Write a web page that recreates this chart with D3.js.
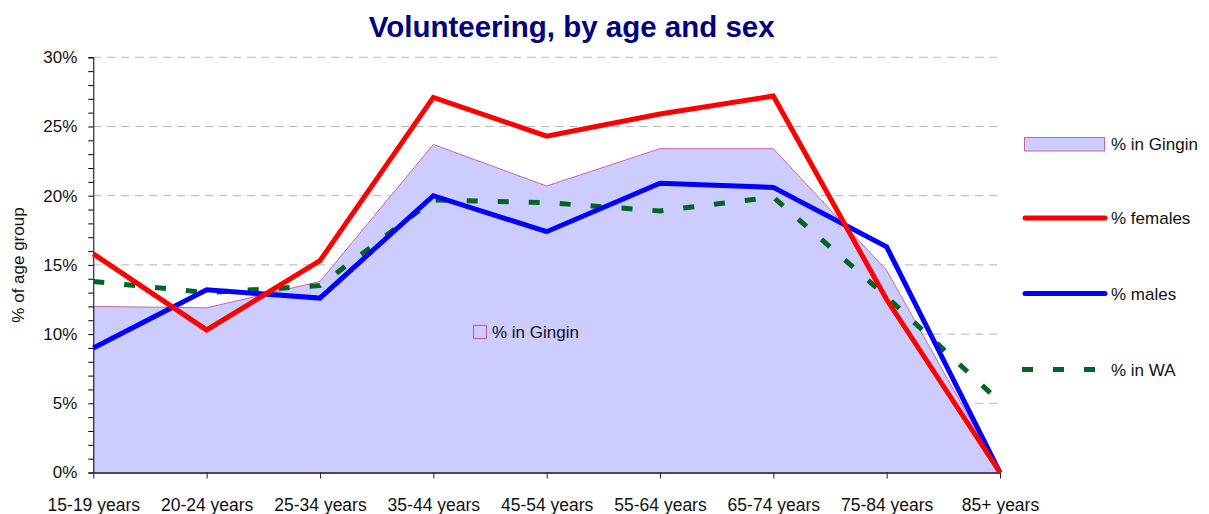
<!DOCTYPE html>
<html>
<head>
<meta charset="utf-8">
<script src="https://cdn.jsdelivr.net/npm/d3@7"></script>
<style>
    body { margin: 0; background: #fff; }
    #chart-area { width: 1209px; height: 514px; }
    text { font-family: "Liberation Sans", Arial, sans-serif; }
</style>
</head>
<body>
<div id="chart-area"></div>
<script>
// age groups on the x axis
let ageGroups = ["15-19 years", "20-24 years", "25-34 years", "35-44 years", "45-54 years",
    "55-64 years", "65-74 years", "75-84 years", "85+ years"];

// series values, % of age group
let gingin  = [12.0, 11.9, 13.8, 23.7, 20.7, 23.4, 23.4, 14.6, 0];
let females = [15.8, 10.3, 15.3, 27.1, 24.3, 25.9, 27.2, 12.5, 0];
let males   = [9.0, 13.2, 12.6, 20.0, 17.4, 20.9, 20.6, 16.3, 0];
let wa      = [13.8, 13.0, 13.5, 19.7, 19.5, 18.9, 19.9, 12.7, 5.1];

// y tick labels
let yTicks = [0, 5, 10, 15, 20, 25, 30];

let seriesNames = ["% in Gingin", "% females", "% males", "% in WA"];


class VolunteerVis {

    constructor(parentElement){
        this.parentElement = parentElement;
        this.initVis();
    }

    initVis(){
        let vis = this;

        vis.margin = {top: 57.3, right: 209, bottom: 41.5, left: 93.3};
        vis.width = 1209 - vis.margin.left - vis.margin.right;
        vis.height = 514 - vis.margin.top - vis.margin.bottom;

        vis.root = d3.select("#" + vis.parentElement).append("svg")
            .attr("width", 1209)
            .attr("height", 514);

        vis.svg = vis.root.append("g")
            .attr("transform", `translate(${vis.margin.left}, ${vis.margin.top})`);

        // title
        vis.root.append("text")
            .text("Volunteering, by age and sex")
            .attr("x", 571.7)
            .attr("y", 37)
            .attr("text-anchor", "middle")
            .style("font-size", "29.5px")
            .style("font-weight", "bold")
            .style("fill", "#000080");

        // scales
        vis.x = d3.scalePoint()
            .domain(ageGroups)
            .range([0, vis.width])
            .padding(0);

        vis.y = d3.scaleLinear()
            .domain([0, 30])
            .range([vis.height, 0]);

        vis.wrangleData();
    }

    wrangleData(){
        let vis = this;

        vis.data = ageGroups.map((g, i) => ({
            group: g,
            gingin: gingin[i],
            females: females[i],
            males: males[i],
            wa: wa[i]
        }));

        vis.updateVis();
    }

    updateVis(){
        let vis = this;

        // gridlines
        vis.svg.append("g")
            .attr("class", "grid")
            .selectAll("line")
            .data(yTicks.filter(d => d > 0))
            .enter()
            .append("line")
            .attr("x1", 0)
            .attr("x2", vis.width)
            .attr("y1", d => vis.y(d))
            .attr("y2", d => vis.y(d))
            .attr("stroke", "#b4b4b4")
            .attr("stroke-width", 1)
            .attr("stroke-dasharray", "8,6");

        // Gingin area
        let area = d3.area()
            .x(d => vis.x(d.group))
            .y0(vis.y(0))
            .y1(d => vis.y(d.gingin));

        vis.svg.append("path")
            .datum(vis.data)
            .attr("d", area)
            .attr("fill", "#ccccff")
            .attr("stroke", "none");

        vis.svg.append("path")
            .datum(vis.data)
            .attr("d", d3.line().x(d => vis.x(d.group)).y(d => vis.y(d.gingin)))
            .attr("fill", "none")
            .attr("stroke", "#cc6699")
            .attr("stroke-width", 1);

        // y axis
        let yAxis = d3.axisLeft(vis.y)
            .tickValues(d3.range(0, 31, 1))
            .tickSize(5)
            .tickFormat(d => (d % 5 === 0 ? d + "%" : ""));

        let yG = vis.svg.append("g")
            .attr("class", "y-axis axis")
            .call(yAxis);
        yG.select(".domain").attr("stroke", "#000");
        yG.selectAll("line").attr("stroke", "#000");
        yG.selectAll("text")
            .attr("x", -16)
            .style("font-size", "17px")
            .style("fill", "#111")
            .style("font-family", "'Liberation Sans', Arial, sans-serif");

        // x axis
        let xAxis = d3.axisBottom(vis.x)
            .tickSize(6)
            .tickSizeOuter(0);

        let xG = vis.svg.append("g")
            .attr("class", "x-axis axis")
            .attr("transform", `translate(0, ${vis.height})`)
            .call(xAxis);
        xG.select(".domain").attr("stroke", "#5c3f5c").attr("stroke-width", 2);
        xG.selectAll("line").attr("stroke", "#222");
        xG.selectAll("text")
            .attr("y", 26)
            .style("font-size", "17.5px")
            .style("fill", "#111")
            .style("font-family", "'Liberation Sans', Arial, sans-serif");

        // y axis title
        vis.root.append("text")
            .text("% of age group")
            .attr("transform", "translate(24, 265) rotate(-90)")
            .attr("text-anchor", "middle")
            .style("font-size", "17px")
            .style("fill", "#111");

        // lines
        let lineSpecs = [
            {key: "wa", color: "#006622", dash: "11,20"},
            {key: "males", color: "#0000ff", dash: null},
            {key: "females", color: "#ff0000", dash: null}
        ];

        lineSpecs.forEach(s => {
            vis.svg.append("path")
                .datum(vis.data)
                .attr("d", d3.line().x(d => vis.x(d.group)).y(d => vis.y(d[s.key])))
                .attr("fill", "none")
                .attr("stroke", s.color)
                .attr("stroke-width", 5)
                .attr("stroke-dasharray", s.dash);
        });

        // label inside the area
        vis.root.append("rect")
            .attr("x", 473.5).attr("y", 325.5)
            .attr("width", 13).attr("height", 13)
            .attr("fill", "none")
            .attr("stroke", "#cc6699")
            .attr("stroke-width", 1.2);
        vis.root.append("text")
            .text("% in Gingin")
            .attr("x", 492)
            .attr("y", 338)
            .style("font-size", "17px")
            .style("fill", "#111");

        // legend
        let legend = vis.root.append("g").attr("class", "legend");
        let legendY = [144, 218, 293.5, 369.5];

        legend.append("rect")
            .attr("x", 1024.5).attr("y", 137.5)
            .attr("width", 80).attr("height", 13.5)
            .attr("fill", "#ccccff")
            .attr("stroke", "#cc6699")
            .attr("stroke-width", 1);

        [["#ff0000", null], ["#0000ff", null], ["#006622", "11,20"]].forEach((c, i) => {
            legend.append("line")
                .attr("x1", c[1] ? 1022 : 1025)
                .attr("x2", c[1] ? 1106 : 1105)
                .attr("y1", legendY[i + 1])
                .attr("y2", legendY[i + 1])
                .attr("stroke", c[0])
                .attr("stroke-width", 5)
                .attr("stroke-linecap", c[1] ? "butt" : "round")
                .attr("stroke-dasharray", c[1]);
        });

        legend.selectAll("text.lg")
            .data(seriesNames)
            .enter()
            .append("text")
            .attr("class", "lg")
            .text(d => d)
            .attr("x", 1111)
            .attr("y", (d, i) => legendY[i] + 6)
            .style("font-size", "17px")
            .style("fill", "#111");
    }
}

new VolunteerVis("chart-area");
</script>
</body>
</html>
